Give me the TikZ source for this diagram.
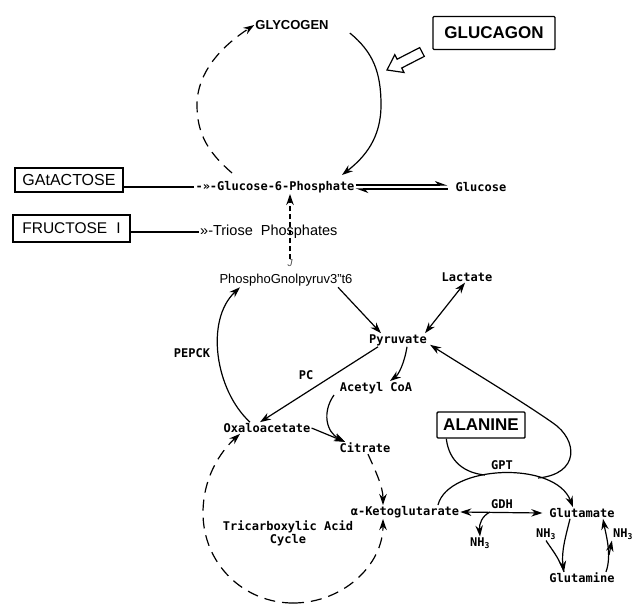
\documentclass[tikz,border=0pt]{standalone}
\usepackage{fontspec}
\setmainfont{Liberation Sans}
\newfontfamily\monofam{DejaVu Sans Mono}
\usepackage{tikz}
\usetikzlibrary{arrows.meta}
\newcommand\twfont{\monofam\bfseries\fontsize{12}{13}\selectfont}

\begin{document}
\begin{tikzpicture}[x=1pt,y=-1pt,
    tw/.style={font=\twfont,inner sep=1pt},
    caps/.style={font=\bfseries\fontsize{13}{14}\selectfont,inner sep=1pt},
    bigbox/.style={draw,line width=1.4pt,rounded corners=1pt,inner sep=0pt,font=\bfseries\fontsize{17}{18}\selectfont},
    sugarbox/.style={draw,line width=1.4pt,inner sep=0pt,font=\fontsize{16}{17}\selectfont},
    plain/.style={font=\fontsize{14.5}{16}\selectfont,inner sep=1pt},
    conn/.style={line width=1.2pt},
    headed/.style={-{Stealth[length=11pt,width=7.5pt]}},
    bothends/.style={{Stealth[length=11pt,width=7.5pt]}-{Stealth[length=11pt,width=7.5pt]}},
    cyc/.style={conn,dash pattern=on 11pt off 7pt}]
  \useasboundingbox (0,0) rectangle (634,603);

  \node[caps] (glycogen) at (292,25) {GLYCOGEN};
  \node[bigbox,minimum width=122pt,minimum height=33pt] (glucagon) at (494,33) {GLUCAGON};
  \node[tw] (g6p) at (275,187) {-»-Glucose-6-Phosphate};
  \node[tw] (glucose) at (481,187) {Glucose};
  \node[sugarbox,minimum width=108pt,minimum height=24pt] (galactose) at (69,180) {GAtACTOSE};
  \node[sugarbox,minimum width=117pt,minimum height=27pt,font=\fontsize{15.5}{17}\selectfont] (fructose) at (71.5,228.5) {FRUCTOSE\hspace{9pt}I};
  \node[plain,anchor=west] (triose) at (199,232) {»-Triose\ \ Phosphates};
  \node[font=\itshape\fontsize{10}{10}\selectfont,text=black!70,inner sep=0pt] (jmark) at (290,263) {J};
  \node[font=\fontsize{13}{14}\selectfont,inner sep=1pt] (pep) at (286,280) {PhosphoGnolpyruv3"t6};
  \node[tw] (lactate) at (467,277) {Lactate};
  \node[tw] (pyruvate) at (398,340) {Pyruvate};
  \node[tw] (pepck) at (192,353) {PEPCK};
  \node[tw] (pc) at (306,375) {PC};
  \node[tw] (acetyl) at (376,388) {Acetyl CoA};
  \node[tw] (oaa) at (267,428) {Oxaloacetate};
  \node[tw] (citrate) at (365,448) {Citrate};
  \node[tw] (akg) at (405,512) {α-Ketoglutarate};
  \node[tw,align=center] (tca) at (288,533) {Tricarboxylic Acid\\Cycle};
  \node[bigbox,minimum width=88pt,minimum height=26pt] (alanine) at (481,425) {ALANINE};
  \node[tw] (gpt) at (502,465) {GPT};
  \node[tw] (gdh) at (502,504) {GDH};
  \node[tw] (glutamate) at (582,513) {Glutamate};
  \node[tw] (glutamine) at (582,578) {Glutamine};
  \node[tw] (nh3a) at (480,543) {NH\textsubscript{3}};
  \node[tw] (nh3b) at (546,534) {NH\textsubscript{3}};
  \node[tw] (nh3c) at (623,534) {NH\textsubscript{3}};

  \coordinate (tcabot) at (293,603);
  \coordinate (gptin) at (485,475);
  \coordinate (gptout) at (538,478);
  \coordinate (gdhsplit) at (490,512);
  \coordinate (glnsplit) at (609,555);

  \draw[line width=1.2pt,fill=white] (419.7,47.6) -- (397.1,59.2) -- (394.8,54.7) -- (387,70)
    -- (404,72.5) -- (401.7,68) -- (424.3,56.4) -- cycle;

  \draw[conn,headed] ([shift={(20,8)}]glycogen.east) .. controls (373,52) and (381,72) .. (381,105)
    .. controls (381,138) and (365,157) .. ([shift={(67,-5)}]g6p.north);
  \draw[cyc,headed] ([shift={(-43,-7)}]g6p.north) .. controls (209,153) and (197,135) .. (197,105)
    .. controls (197,72) and (222,46) .. (glycogen.west);
  \draw[conn,-{Stealth[harpoon,length=11pt,width=8pt]}] ([yshift=2pt]g6p.east) -- ([shift={(-7,-2)}]glucose.west);
  \draw[conn,-{Stealth[harpoon,length=11pt,width=8pt]}] ([shift={(-7,2)}]glucose.west) -- ([yshift=-2pt]g6p.east);
  \draw[conn] (galactose.east |- g6p.west) -- (g6p.west);
  \draw[conn] (fructose.east |- triose.west) -- (triose.west);
  \draw[line width=1.6pt,dash pattern=on 5pt off 3pt,headed] (jmark.north) -- (jmark.north |- g6p.south);

  \draw[conn,headed] ([xshift=52pt]pep.south) -- ([xshift=-17pt]pyruvate.north);
  \draw[conn,bothends] ([xshift=-2pt]lactate.south) -- ([xshift=27pt]pyruvate.north);
  \draw[conn,headed] ([xshift=-20pt]pyruvate.south) -- ([xshift=-7pt]oaa.north);
  \draw[conn,headed] ([xshift=9pt]pyruvate.south) .. controls (404,365) and (398,375) .. ([xshift=14pt]acetyl.north);
  \draw[conn,headed] ([xshift=-17pt]oaa.north) .. controls (215,390) and (205,320) .. ([xshift=-46pt]pep.south);
  \draw[conn,headed] (oaa.east) -- ([xshift=-20pt]citrate.north);
  \draw[conn,headed] ([xshift=-42pt]acetyl.south) .. controls (322,412) and (326,432) .. ([xshift=-20pt]citrate.north);
  \draw[cyc,headed] ([xshift=3pt]citrate.south) .. controls (376,472) and (383,487) .. ([xshift=-22pt]akg.north);
  \draw[cyc,headed] (tcabot) .. controls (343,603) and (383,565) .. ([xshift=-22pt]akg.south);
  \draw[cyc,headed] (tcabot) .. controls (243,603) and (203,563) .. (203,513)
    .. controls (203,478) and (220,452) .. ([xshift=-27pt]oaa.south);

  \draw[conn,headed] ([xshift=33pt]akg.north) .. controls (448,465) and (555,460) .. ([xshift=-9pt]glutamate.north);
  \draw[conn] ([xshift=10pt]alanine.south west) .. controls (449,462) and (465,473) .. (gptin);
  \draw[conn,headed] (gptout) .. controls (580,474) and (578,440) .. (553,423)
    .. controls (520,400) and (470,370) .. ([shift={(2,-2)}]pyruvate.south east);
  \draw[conn,bothends] (akg.east) -- ([xshift=-6pt]glutamate.west);
  \draw[conn,headed] (gdhsplit) .. controls (482,516) and (479,524) .. (nh3a.north);
  \draw[conn,headed] ([xshift=-12pt]glutamate.south) .. controls (566,535) and (561,552) .. ([xshift=-18pt]glutamine.north);
  \draw[conn] (nh3b.south) .. controls (552,550) and (558,556) .. ([xshift=-18pt]glutamine.north);
  \draw[conn,headed] ([xshift=24pt]glutamine.north) .. controls (612,555) and (606,535) .. ([xshift=21pt]glutamate.south);
  \draw[conn,headed] (glnsplit) -- (nh3c.south west);
\end{tikzpicture}
\end{document}
